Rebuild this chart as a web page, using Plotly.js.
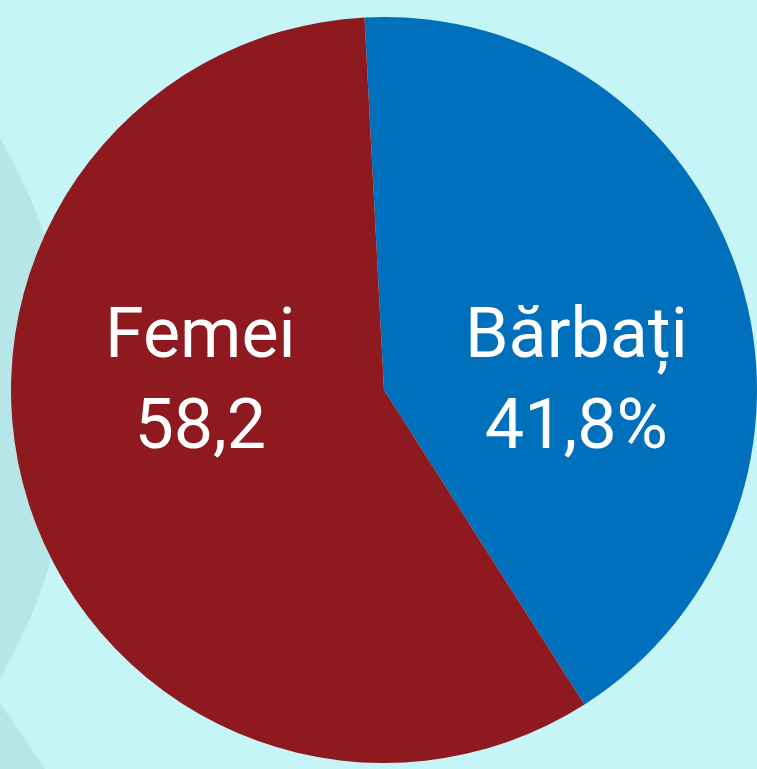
<!DOCTYPE html>
<html>
<head>
<meta charset="utf-8">
<script src="https://cdn.plot.ly/plotly-3.0.1.min.js"></script>
<style>html,body{margin:0;padding:0;overflow:hidden;background:#c5f5f6;}#chart{width:757px;height:769px;}</style>
</head>
<body>
<div id="chart"></div>
<script>
const labels = ["Bărbați", "Femei"];
const values = [41.8, 58.2];
const valueTexts = ["41,8%", "58,2"];
const colors = ["#0070bc", "#8e1a1f"];

const W = 757, H = 769;
// label anchor positions (pixels) – style only
const labelPos = [[576, 378], [200, 378]];

const annotations = labels.map((l, i) => ({
  xref: "paper", yref: "paper",
  x: labelPos[i][0] / W, y: 1 - labelPos[i][1] / H,
  xanchor: "center", yanchor: "middle",
  text: l + "<br>" + valueTexts[i],
  showarrow: false,
  align: "center",
  font: {family: "Roboto, sans-serif", size: 70, color: "#ffffff"}
}));

const data = [{
  type: "pie",
  labels: labels,
  values: values,
  sort: false,
  direction: "clockwise",
  rotation: -3,
  marker: {colors: colors, line: {width: 0}},
  textinfo: "none",
  hoverinfo: "none",
  showlegend: false,
  domain: {x: [11 / W, 1], y: [5 / H, 753 / H]}
}];

const layout = {
  width: W, height: H,
  margin: {l: 0, r: 0, t: 0, b: 0, pad: 0},
  paper_bgcolor: "#c5f5f6",
  showlegend: false,
  annotations: annotations,
  shapes: [
    {type: "circle", xref: "paper", yref: "paper", layer: "below",
     x0: (-462 - 535) / W, x1: (-462 + 535) / W,
     y0: 1 - (408 + 535) / H, y1: 1 - (408 - 535) / H,
     fillcolor: "#b6e6e8", line: {width: 0}},
    {type: "path", xref: "paper", yref: "paper", layer: "below",
     path: "M 0 " + (1 - 703 / H) + " L " + (45 / W) + " 0 L 0 0 Z",
     fillcolor: "#b6e6e8", line: {width: 0}}
  ]
};

Plotly.newPlot("chart", data, layout, {displayModeBar: false, staticPlot: true});
</script>
</body>
</html>
